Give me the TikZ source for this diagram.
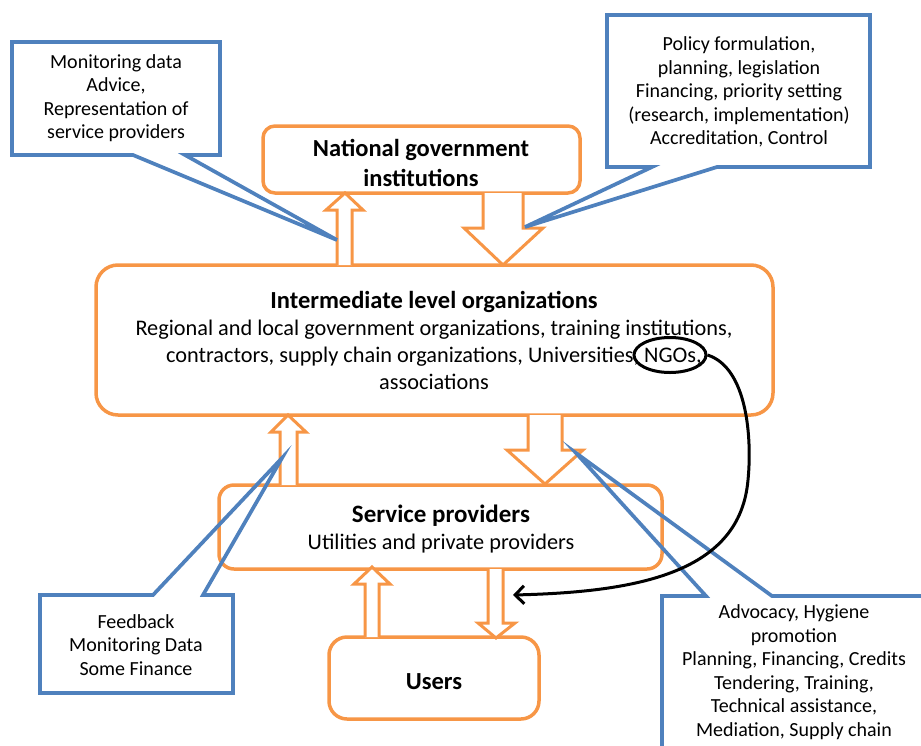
\documentclass[tikz,border=0pt]{standalone}
\usepackage{fontspec}
\setmainfont{Carlito}
\usetikzlibrary{arrows.meta,shapes.geometric}
\definecolor{orng}{HTML}{F79646}
\definecolor{blu}{HTML}{4F81BD}
\begin{document}
\begin{tikzpicture}[x=1pt,y=-1pt,
  box/.style={draw=orng, line width=3.5pt, fill=white, inner sep=0pt, align=center},
  barrow/.style={draw=orng, line width=3pt, line join=miter, fill=white},
  callout/.style={draw=blu, line width=3.7pt, line join=miter},
  ctext/.style={align=center, inner sep=0pt, font=\fontsize{20}{23.5}\selectfont},
  ttl/.style={align=center, inner sep=0pt, font=\fontsize{24.5}{29.5}\selectfont\bfseries},
  body/.style={align=center, inner sep=0pt, font=\fontsize{22.3}{27}\selectfont}
]
\useasboundingbox (0,0) rectangle (921,745);
\clip (0,0) rectangle (921,745);

% boxes
\node[box, rounded corners=12pt, minimum width=317pt, minimum height=67pt] (nat) at (421.5,159.5) {};
\node[ttl] (nattxt) at (421,163) {National government\\institutions};
\node[box, rounded corners=22pt, minimum width=677pt, minimum height=150pt] (mid) at (434.5,340) {};
\node[body] (midtxt) at (434,340)
  {{\fontsize{24.5}{27}\selectfont\bfseries Intermediate level organizations}\\
   Regional and local government organizations, training institutions,\\
   contractors, supply chain organizations, Universities, NGOs,\\
   associations};
\node[box, rounded corners=15pt, minimum width=443pt, minimum height=84pt] (sp) at (440.5,527) {};
\node[body] (sptxt) at (441,529)
  {{\fontsize{25}{27}\selectfont\bfseries Service providers}\\
   Utilities and private providers};
\node[box, rounded corners=18pt, minimum width=210pt, minimum height=82pt] (usr) at (434,678) {};
\node[ttl] (usrtxt) at (434,682) {Users};

% block arrows
\draw[barrow] (337,265)--(337,210)--(326,210)--(345,193)--(363,210)--(352,210)--(352,265);
\draw[barrow] (483,193)--(483,228)--(464,228)--(503,265)--(543,228)--(523,228)--(523,193);
\draw[barrow] (280,485)--(280,432)--(271,432)--(288,415)--(306,432)--(297,432)--(297,485);
\draw[barrow] (528,415)--(528,450)--(507,450)--(545,484)--(583,450)--(562,450)--(562,415);
\draw[barrow] (365,637)--(365,584)--(354,584)--(372,567)--(390,584)--(379,584)--(379,637);
\draw[barrow] (488,569)--(488,623)--(478,623)--(496,638)--(515,623)--(503,623)--(503,569);

% callouts
\draw[callout] (12,42)--(220,42)--(220,155)--(185,155)--(337,240)--(133,155)--(12,155)--cycle;
\node[ctext] (c1) at (116,98) {Monitoring data\\Advice,\\Representation of\\service providers};

\draw[callout] (607,15)--(870,15)--(870,167)--(717,167)--(525,227)--(652,167)--(607,167)--cycle;
\node[ctext] (c2) at (739,92) {Policy formulation,\\planning, legislation\\Financing, priority setting\\(research, implementation)\\Accreditation, Control};

\draw[callout] (40,595)--(153,595)--(282,458)--(203,595)--(233,595)--(233,693)--(40,693)--cycle;
\node[ctext] (c3) at (136,645) {Feedback\\Monitoring Data\\Some Finance};

\draw[callout] (662,760)--(662,596)--(706,596)--(576,453)--(772,596)--(940,596)--(940,760)--cycle;
\node[ctext] (c4) at (794,672) {Advocacy, Hygiene\\promotion\\Planning, Financing, Credits\\Tendering, Training,\\Technical assistance,\\Mediation, Supply chain};

% NGO highlight and curved arrow
\node[draw=black, line width=3pt, ellipse, minimum width=72pt, minimum height=35pt, inner sep=0pt] (ngo) at (670,355) {};
\coordinate (tgt) at (513,595);
\draw[line width=3pt, -{Straight Barb[length=9pt,width=18pt,line width=3pt]}]
  (ngo.east) .. controls (748,368) and (752,440) .. (748,480)
  .. controls (740,572) and (640,592) .. (tgt);
\end{tikzpicture}
\end{document}
